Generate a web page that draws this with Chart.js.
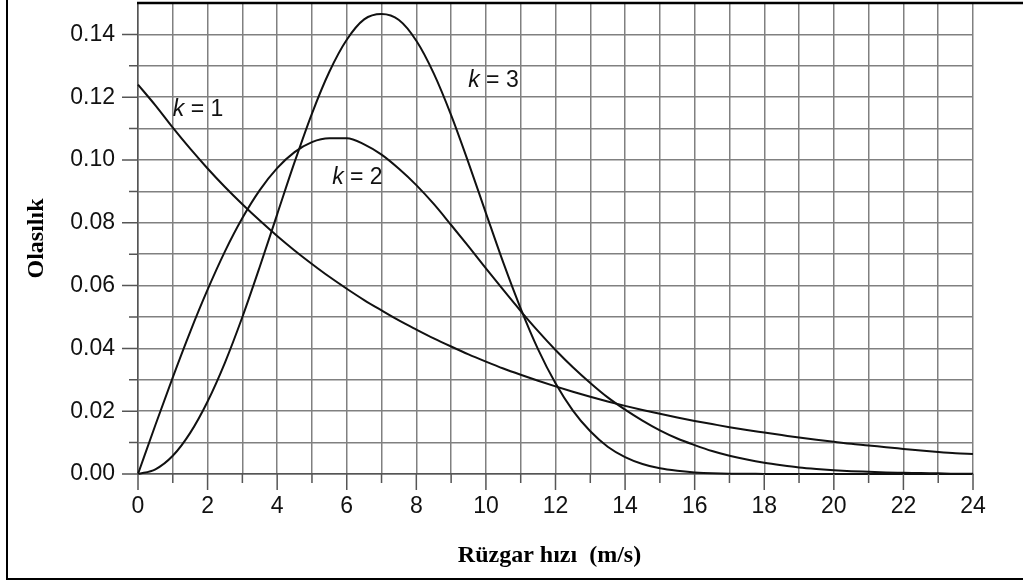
<!DOCTYPE html>
<html>
<head>
<meta charset="utf-8">
<script src="https://cdn.jsdelivr.net/npm/chart.js@4.4.1/dist/chart.umd.min.js"></script>
<style>
  body { margin: 0; background: #fff; }
  #wrap { position: relative; width: 1023px; height: 583px; overflow: hidden; }
  #frame { position: absolute; left: 6px; top: 0; width: 1100px; height: 578px;
           border-left: 2px solid #000; border-bottom: 2px solid #000; }
  #weibullChart { position: absolute; left: 0; top: 0; }
</style>
</head>
<body>
<div id="wrap">
  <div id="frame"></div>
  <canvas id="weibullChart" width="1023" height="583"></canvas>
</div>
<script>
// ruzgar hizi (m/s)
const speeds = [0, 0.5, 1, 1.5, 2, 2.5, 3, 3.5, 4, 4.5, 5, 5.5, 6, 6.5, 7, 7.5, 8, 8.5, 9, 9.5,
    10, 10.5, 11, 11.5, 12, 12.5, 13, 13.5, 14, 14.5, 15, 15.5, 16, 16.5, 17, 17.5, 18, 18.5, 19, 19.5,
    20, 20.5, 21, 21.5, 22, 22.5, 23, 23.5, 24];

// olasilik degerleri
const probK1 = [0.1240, 0.1174, 0.1103, 0.1036, 0.0973, 0.0914, 0.0859, 0.0807, 0.0758, 0.0712,
    0.0669, 0.0628, 0.0590, 0.0554, 0.0521, 0.0489, 0.0460, 0.0432, 0.0406, 0.0381,
    0.0358, 0.0336, 0.0316, 0.0297, 0.0279, 0.0262, 0.0246, 0.0231, 0.0217, 0.0204,
    0.0192, 0.0180, 0.0169, 0.0159, 0.0149, 0.0140, 0.0132, 0.0124, 0.0116, 0.0109,
    0.0103, 0.0096, 0.0091, 0.0085, 0.0080, 0.0075, 0.0070, 0.0066, 0.0064];
const probK2 = [0, 0.0156, 0.0308, 0.0453, 0.0587, 0.0709, 0.0815, 0.0904, 0.0974, 0.1025,
    0.1057, 0.1069, 0.1069, 0.1050, 0.1017, 0.0972, 0.0920, 0.0860, 0.0793, 0.0725,
    0.0655, 0.0586, 0.0519, 0.0455, 0.0395, 0.0340, 0.0290, 0.0244, 0.0205, 0.0170,
    0.0139, 0.0113, 0.0092, 0.0073, 0.0058, 0.0046, 0.0036, 0.0028, 0.0021, 0.0016,
    0.0012, 0.0009, 0.0007, 0.0005, 0.0004, 0.0003, 0.0002, 0.0001, 0.0001];
const probK3 = [0, 0.0015, 0.0058, 0.0131, 0.0231, 0.0355, 0.0500, 0.0660, 0.0827, 0.0993,
    0.1148, 0.1281, 0.1383, 0.1448, 0.1465, 0.1446, 0.1380, 0.1276, 0.1143, 0.0991,
    0.0831, 0.0673, 0.0527, 0.0397, 0.0289, 0.0202, 0.0136, 0.0087, 0.0054, 0.0032,
    0.0018, 0.0010, 0.0005, 0.0002, 0.0001, 0.0001, 0, 0, 0, 0,
    0, 0, 0, 0, 0, 0, 0, 0, 0];

// egri etiketleri (k degeri ve konumu)
const curveLabels = ['1', '2', '3'];
const labelX = [1.0, 5.58, 9.49];
const labelY = [0.1161, 0.0945, 0.1254];

const gridColor = '#808080';
const axisColor = '#555555';

function toPoints(values) {
    return speeds.map((v, i) => ({ x: v, y: values[i] }));
}

function curve(values) {
    return {
        data: toPoints(values),
        borderColor: '#111111',
        borderWidth: 2,
        pointRadius: 0,
        fill: false,
        cubicInterpolationMode: 'monotone',
        clip: 4
    };
}

// tick isaretleri, ust cizgi ve k etiketleri
const decorPlugin = {
    id: 'decor',
    afterDraw(chart) {
        const ctx = chart.ctx;
        const xs = chart.scales.x;
        const ys = chart.scales.y;
        const area = chart.chartArea;
        ctx.save();
        ctx.strokeStyle = axisColor;
        ctx.lineWidth = 1.5;
        ctx.beginPath();
        for (let i = 0; i <= 24; i++) {
            const px = xs.getPixelForValue(i);
            const len = i % 2 === 0 ? 16 : 9;
            ctx.moveTo(px, area.bottom);
            ctx.lineTo(px, area.bottom + len);
        }
        for (let j = 0; j <= 14; j++) {
            const py = ys.getPixelForValue(j / 100);
            const len = j % 2 === 0 ? 16 : 9;
            ctx.moveTo(area.left, py);
            ctx.lineTo(area.left - len, py);
        }
        ctx.stroke();

        // ust siyah cizgi
        ctx.strokeStyle = '#000';
        ctx.lineWidth = 2.5;
        ctx.beginPath();
        ctx.moveTo(area.left - 1, area.top);
        ctx.lineTo(chart.width, area.top);
        ctx.stroke();

        // k = ... etiketleri
        ctx.fillStyle = '#111';
        ctx.textBaseline = 'middle';
        ctx.textAlign = 'left';
        curveLabels.forEach((t, i) => {
            const px = xs.getPixelForValue(labelX[i]);
            const py = ys.getPixelForValue(labelY[i]);
            ctx.font = 'italic 23px "Liberation Sans", Arial, sans-serif';
            ctx.fillText('k', px, py);
            const w = ctx.measureText('k').width;
            ctx.font = '23px "Liberation Sans", Arial, sans-serif';
            ctx.fillText(' = ' + t, px + w, py);
        });
        ctx.restore();
    }
};

const ctx = document.getElementById('weibullChart').getContext('2d');
new Chart(ctx, {
    type: 'line',
    data: {
        datasets: [curve(probK1), curve(probK2), curve(probK3)]
    },
    options: {
        responsive: false,
        animation: false,
        layout: { padding: { top: 3, right: 50, left: 0, bottom: 0 } },
        plugins: {
            legend: { display: false },
            tooltip: { enabled: false }
        },
        scales: {
            x: {
                type: 'linear',
                min: 0,
                max: 24,
                afterFit: scale => {
                    scale.height = 109;
                    scale.paddingLeft = 0;
                    scale.paddingRight = 0;
                },
                ticks: {
                    stepSize: 1,
                    autoSkip: false,
                    maxRotation: 0,
                    padding: 19,
                    color: '#111',
                    font: { family: '"Liberation Sans", Arial, sans-serif', size: 23 },
                    callback: v => (Math.round(v) % 2 === 0 ? String(Math.round(v)) : '')
                },
                grid: { color: gridColor, lineWidth: 1.5, drawTicks: false },
                border: { color: axisColor, width: 1.5 },
                title: {
                    display: true,
                    text: 'Rüzgar hızı  (m/s)\u2002',
                    color: '#000',
                    padding: { top: 0, bottom: 13 },
                    font: { family: '"Liberation Serif", "Times New Roman", serif', size: 24, weight: 'bold' }
                }
            },
            y: {
                min: 0,
                max: 0.15,
                afterFit: scale => {
                    scale.width = 138;
                    scale.paddingTop = 0;
                    scale.paddingBottom = 0;
                },
                ticks: {
                    stepSize: 0.01,
                    autoSkip: false,
                    padding: 23,
                    color: '#111',
                    font: { family: '"Liberation Sans", Arial, sans-serif', size: 23 },
                    callback: v => {
                        const n = Math.round(v * 100);
                        return (n % 2 === 0 && n <= 14) ? (n / 100).toFixed(2) : '';
                    }
                },
                grid: { color: gridColor, lineWidth: 1.5, drawTicks: false },
                border: { color: axisColor, width: 1.5 },
                title: {
                    display: true,
                    text: 'Olasılık',
                    color: '#000',
                    padding: { top: 22, bottom: 0 },
                    font: { family: '"Liberation Serif", "Times New Roman", serif', size: 24, weight: 'bold' }
                }
            }
        }
    },
    plugins: [decorPlugin]
});
</script>
</body>
</html>
